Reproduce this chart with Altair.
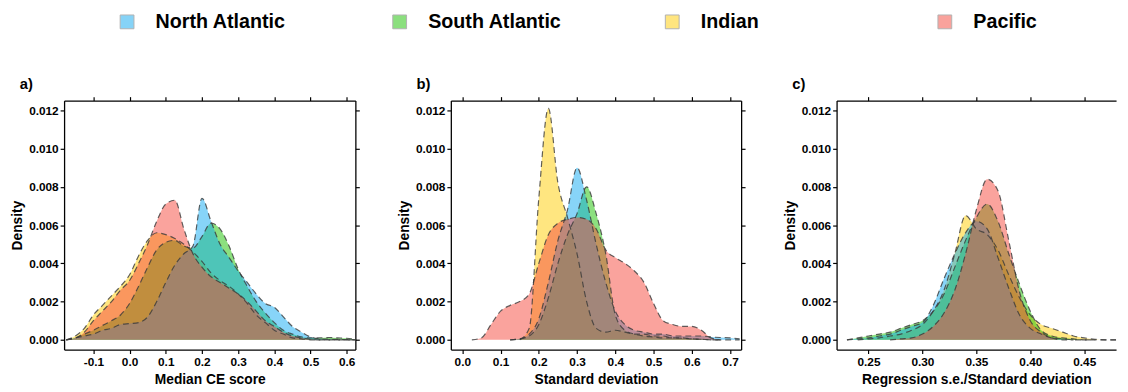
import altair as alt
import pandas as pd

SERIES = ["North Atlantic", "South Atlantic", "Indian", "Pacific"]
COLORS = ["#0FA9F1", "#19C100", "#FFCD01", "#F5473B"]
DRAW_ORDER = ["Indian", "South Atlantic", "North Atlantic", "Pacific"]
FILL_OPACITY = 0.5
FONT = "Liberation Sans"

# ---------------- panel a: Median CE score ----------------
XA = [-0.175, -0.15, -0.125, -0.1, -0.075, -0.05, -0.025, 0.0, 0.025, 0.05, 0.075,
      0.1, 0.125, 0.15, 0.175, 0.2, 0.225, 0.25, 0.275, 0.3, 0.325, 0.35, 0.375,
      0.4, 0.425, 0.45, 0.475, 0.5, 0.525, 0.55, 0.575, 0.6, 0.625]
A_NORTH = [0, 0.0001, 0.0002, 0.0003, 0.0005, 0.0006, 0.0008, 0.00085, 0.0009, 0.0012, 0.002,
           0.003, 0.0039, 0.0045, 0.0049, 0.0074, 0.0062, 0.005, 0.0043, 0.0036, 0.003, 0.0024, 0.0019,
           0.0017, 0.0012, 0.0007, 0.0004, 0.00015, 0.00005, 0.00003, 0.00002, 0.00001, 0]
A_SOUTH = [0, 0.0001, 0.0003, 0.0005, 0.00075, 0.001, 0.0013, 0.0019, 0.0028, 0.0038, 0.0047,
           0.0051, 0.0052, 0.0049, 0.0048, 0.0054, 0.0061, 0.0058, 0.0049, 0.0037, 0.0028, 0.002, 0.0014,
           0.0009, 0.0005, 0.0003, 0.00015, 0.0001, 0.0001, 0.00012, 0.0001, 0.00008, 0.00002]
A_INDIAN = [0, 0.0002, 0.0006, 0.0013, 0.0018, 0.0023, 0.0028, 0.0034, 0.0044, 0.0052, 0.0056,
            0.0055, 0.0053, 0.005, 0.0046, 0.0041, 0.0035, 0.0031, 0.0028, 0.0024, 0.0019, 0.0013, 0.0009,
            0.0005, 0.0003, 0.0001, 0.00005, 0, 0, 0, 0, 0, 0]
A_PACIFIC = [0, 0.0001, 0.0004, 0.001, 0.0015, 0.002, 0.0026, 0.0031, 0.004, 0.005, 0.0062,
             0.0071, 0.0073, 0.0058, 0.0045, 0.0038, 0.0033, 0.003, 0.0027, 0.0024, 0.002, 0.0015, 0.001,
             0.0007, 0.0004, 0.0002, 0.0001, 0.00003, 0, 0, 0, 0, 0]

# ---------------- panel b: Standard deviation ----------------
XB = [0.0, 0.025, 0.05, 0.075, 0.1, 0.125, 0.15, 0.175, 0.2, 0.225, 0.25, 0.275, 0.3, 0.325,
      0.35, 0.375, 0.4, 0.425, 0.45, 0.475, 0.5, 0.525, 0.55, 0.575, 0.6, 0.625, 0.65, 0.675,
      0.7, 0.725]
B_NORTH = [None, None, None, None, None, 0, 0.00005, 0.0003, 0.0011, 0.003, 0.0052, 0.0068, 0.009,
           0.0073, 0.005, 0.003, 0.0015, 0.0008, 0.0005, 0.0004, 0.0003, 0.0003, 0.0002, 0.0002,
           0.0002, 0.0002, 0.00015, 0.00012, 0.0001, 0.00005]
B_SOUTH = [None, None, None, None, None, 0, 0.00005, 0.0002, 0.0008, 0.0022, 0.004, 0.0055, 0.0066,
           0.008, 0.0066, 0.0045, 0.0013, 0.0005, 0.0003, 0.0002, 0.00015, 0.0001, 0.0001, 0.00008,
           0.00005, 0.00003, 0, 0, 0, 0]
B_INDIAN = [None, None, None, None, None, None, 0, 0.0006, 0.0074, 0.0121, 0.0082, 0.0064, 0.0045,
            0.002, 0.0006, 0.0004, 0.0005, 0.0004, 0.0003, 0.0003, 0.0002, 0.0002, 0.0001, 0.0001,
            0.00005, 0.00003, 0, 0, None, None]
B_PACIFIC = [None, 0, 0.0001, 0.0008, 0.0015, 0.0018, 0.002, 0.0024, 0.004, 0.0055, 0.0061, 0.0063,
             0.0064, 0.0063, 0.0058, 0.0047, 0.0043, 0.004, 0.0036, 0.003, 0.0019, 0.001, 0.0008,
             0.0007, 0.0007, 0.0005, 0.0001, 0, None, None]

# ---------------- panel c: Regression s.e./Standard deviation ----------------
XC = [0.23, 0.24, 0.25, 0.26, 0.27, 0.28, 0.29, 0.30, 0.31, 0.32, 0.33, 0.34, 0.35, 0.36,
      0.37, 0.38, 0.39, 0.40, 0.41, 0.42, 0.43, 0.44, 0.45, 0.46, 0.47, 0.48]
C_NORTH = [0, 0.00005, 0.0001, 0.0002, 0.0003, 0.0005, 0.0007, 0.0009, 0.0018, 0.0032, 0.0045,
           0.0056, 0.0062, 0.0058, 0.0043, 0.0027, 0.0013, 0.0006, 0.0003, 0.0001, 0.00005, 0,
           0, 0, None, None]
C_SOUTH = [0, 0.0001, 0.0002, 0.0003, 0.0004, 0.0006, 0.0008, 0.001, 0.0015, 0.0024, 0.0038,
           0.0052, 0.0064, 0.0071, 0.0062, 0.0045, 0.0029, 0.0015, 0.0005, 0.0002, 0.0001, 0.00005,
           0, 0, 0, 0]
C_INDIAN = [None, 0, 0.00005, 0.0001, 0.0002, 0.0003, 0.0005, 0.0008, 0.0015, 0.0026, 0.0045,
            0.0065, 0.0058, 0.0055, 0.0047, 0.0034, 0.0022, 0.0013, 0.0008, 0.0006, 0.0004, 0.0002,
            0.0001, 0.00003, 0, 0]
C_PACIFIC = [None, None, None, None, 0, 0.00005, 0.0001, 0.0003, 0.0007, 0.0014, 0.0026,
             0.0045, 0.0068, 0.0084, 0.0078, 0.0052, 0.0025, 0.001, 0.0004, 0.0001, 0, 0,
             None, None, None, None]

Y_TICKS = [0.0, 0.002, 0.004, 0.006, 0.008, 0.010, 0.012]
Y_DOMAIN = [-0.00051, 0.01251]
A_TICKS = [-0.1, 0.0, 0.1, 0.2, 0.3, 0.4, 0.5, 0.6]
B_TICKS = [0.0, 0.1, 0.2, 0.3, 0.4, 0.5, 0.6, 0.7]
C_TICKS = [0.25, 0.30, 0.35, 0.40, 0.45]


def to_long(xs, cols):
    rows = []
    for name, vals in zip(SERIES, cols):
        for xv, v in zip(xs, vals):
            if v is not None:
                rows.append({"x": xv, "d": v, "series": name})
    return pd.DataFrame(rows)


legend = alt.Legend(
    orient="none", legendX=54, legendY=-90, direction="horizontal", columns=4,
    title=None, symbolType="square", symbolSize=196, symbolOpacity=0.5,
    symbolStrokeColor="#666666", symbolStrokeWidth=1, labelFont=FONT, labelFontSize=20,
    labelFontWeight="bold", labelColor="black", labelOffset=19, columnPadding=102,
    gridAlign="all", padding=0, labelLimit=400,
)


def panel(df, xdom, xticks, decimals, xtitle, label, width, title_dx, right_axis):
    xs = alt.Scale(domain=xdom, nice=False, zero=False)
    ys = alt.Scale(domain=Y_DOMAIN, nice=False, zero=False)
    cs = alt.Scale(domain=SERIES, range=COLORS)
    lab = ("datum.value < 0 ? '-' + format(-datum.value, '.%df') : format(datum.value, '.%df')"
           % (decimals, decimals))
    bottom_axis = alt.Axis(orient="bottom", values=xticks, labelExpr=lab, title=xtitle,
                           labelPadding=3, titlePadding=6)
    left_axis = alt.Axis(orient="left", values=Y_TICKS, format=".3f", title="Density",
                         labelPadding=2, titlePadding=4)
    top_axis = alt.Axis(orient="top", values=xticks, labels=False, title=None)
    right_ax = alt.Axis(orient="right", values=Y_TICKS, labels=False, title=None)

    base = alt.Chart(df)
    layers = []
    for i, s in enumerate(DRAW_ORDER):
        sub = base.transform_filter(alt.datum.series == s)
        layers.append(
            sub.mark_area(opacity=FILL_OPACITY, interpolate="monotone", clip=True).encode(
                x=alt.X("x:Q", scale=xs, axis=bottom_axis if i == 0 else None),
                y=alt.Y("d:Q", scale=ys, axis=left_axis if i == 0 else None),
                y2=alt.datum(0),
                color=alt.Color("series:N", scale=cs, legend=legend),
            )
        )
    for s in DRAW_ORDER:
        sub = base.transform_filter(alt.datum.series == s)
        layers.append(
            sub.mark_line(interpolate="monotone", clip=True, color="#3a3a3a", opacity=0.8,
                          strokeWidth=1.2, strokeDash=[6, 4]).encode(
                x=alt.X("x:Q", scale=xs, axis=None),
                y=alt.Y("d:Q", scale=ys, axis=None),
            )
        )
    frame = base.mark_point(opacity=0).encode(
        x=alt.X("x:Q", scale=xs, axis=top_axis),
        y=alt.Y("d:Q", scale=ys, axis=right_ax if right_axis else None),
    )
    layers.append(frame)
    title = alt.TitleParams(label, anchor="start", frame="group", dx=title_dx, offset=4,
                            fontSize=15, fontWeight="bold", font=FONT, color="black")
    return (
        alt.layer(*layers)
        .resolve_axis(x="independent", y="independent")
        .properties(width=width, height=253, title=title)
    )


pa = panel(to_long(XA, [A_NORTH, A_SOUTH, A_INDIAN, A_PACIFIC]), [-0.181, 0.624], A_TICKS, 1,
           "Median CE score", "a)", 296, -45, True)
pb = panel(to_long(XB, [B_NORTH, B_SOUTH, B_INDIAN, B_PACIFIC]), [-0.03, 0.729], B_TICKS, 1,
           "Standard deviation", "b)", 295, -35, True)
pc = panel(to_long(XC, [C_NORTH, C_SOUTH, C_INDIAN, C_PACIFIC]), [0.2204, 0.4795], C_TICKS, 2,
           "Regression s.e./Standard deviation", "c)", 284, -45, False)

chart = (
    alt.hconcat(pa, pb, pc, spacing=37)
    .properties(padding={"left": 2, "top": 1, "right": 0, "bottom": 0})
    .configure(font=FONT)
    .configure_view(stroke=None)
    .configure_axis(
        domainColor="black", domainWidth=1.3, tickColor="black", tickWidth=1.2, tickSize=4,
        labelFont=FONT, labelFontSize=12, labelFontWeight="bold", labelColor="black",
        titleFont=FONT, titleFontSize=14, titleFontWeight="bold", titleColor="black", grid=False,
    )
)

chart.save("out.html", embed_options={"renderer": "svg", "actions": False})
